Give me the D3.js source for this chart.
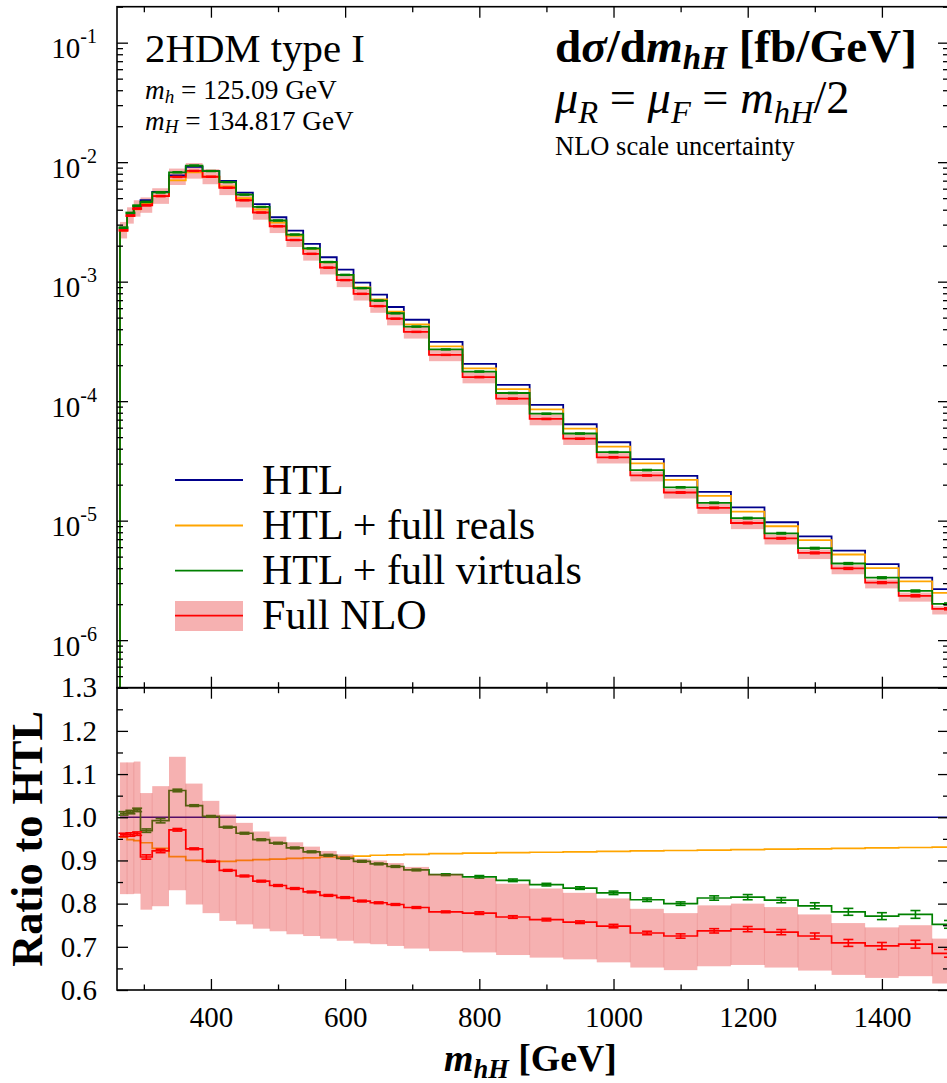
<!DOCTYPE html>
<html><head><meta charset="utf-8">
<script src="https://cdn.jsdelivr.net/npm/d3@7"></script>
<style>html,body{margin:0;padding:0;background:#fff} svg{display:block} text{font-family:"Liberation Serif",serif;fill:#000}</style>
</head><body><svg id="c" width="947" height="1083" font-family="Liberation Serif, serif"></svg>
<script>
// ---------- data ----------
const binEdges = [264.5,275,285,295,312.5,337.5,362.5,387.5,412.5,437.5,462.5,487.5,512.5,537.5,562.5,587.5,612.5,637.5,662.5,687.5,725,775,825,875,925,975,1025,1075,1125,1175,1225,1275,1325,1375,1425,1475,1525];
const htl = [2.80e-3,3.72e-3,4.25e-3,4.80e-3,5.64e-3,7.75e-3,9.12e-3,8.41e-3,6.97e-3,5.56e-3,4.45e-3,3.46e-3,2.67e-3,2.07e-3,1.60e-3,1.26e-3,9.82e-4,7.78e-4,6.14e-4,4.80e-4,3.13e-4,2.05e-4,1.37e-4,9.30e-5,6.41e-5,4.53e-5,3.27e-5,2.37e-5,1.74e-5,1.29e-5,9.70e-6,7.40e-6,5.61e-6,4.32e-6,3.33e-6,2.67e-6];
const reals = [2.67e-3,3.53e-3,4.02e-3,4.52e-3,5.23e-3,7.04e-3,8.21e-3,7.55e-3,6.26e-3,5.00e-3,4.01e-3,3.12e-3,2.42e-3,1.88e-3,1.45e-3,1.14e-3,8.94e-4,7.10e-4,5.61e-4,4.39e-4,2.87e-4,1.88e-4,1.26e-4,8.54e-5,5.90e-5,4.17e-5,3.01e-5,2.19e-5,1.61e-5,1.19e-5,8.98e-6,6.86e-6,5.21e-6,4.01e-6,3.10e-6,2.49e-6];
const virt = [2.83e-3,3.76e-3,4.32e-3,4.65e-3,5.59e-3,8.23e-3,9.37e-3,8.43e-3,6.81e-3,5.35e-3,4.22e-3,3.25e-3,2.48e-3,1.90e-3,1.46e-3,1.14e-3,8.82e-4,6.94e-4,5.44e-4,4.21e-4,2.71e-4,1.77e-4,1.17e-4,7.85e-5,5.36e-5,3.74e-5,2.65e-5,1.90e-5,1.41e-5,1.05e-5,7.84e-6,5.88e-6,4.38e-6,3.33e-6,2.58e-6,2.01e-6];
const nlo = [2.69e-3,3.57e-3,4.09e-3,4.36e-3,5.20e-3,7.53e-3,8.45e-3,7.55e-3,6.11e-3,4.80e-3,3.79e-3,2.91e-3,2.23e-3,1.71e-3,1.31e-3,1.03e-3,7.91e-4,6.24e-4,4.90e-4,3.80e-4,2.44e-4,1.59e-4,1.05e-4,7.10e-5,4.85e-5,3.39e-5,2.39e-5,1.72e-5,1.28e-5,9.56e-6,7.12e-6,5.37e-6,3.98e-6,3.03e-6,2.35e-6,1.83e-6];
const nloLo = [2.30e-3,3.06e-3,3.50e-3,3.77e-3,4.48e-3,6.44e-3,7.28e-3,6.54e-3,5.30e-3,4.18e-3,3.30e-3,2.55e-3,1.95e-3,1.50e-3,1.15e-3,9.00e-4,6.95e-4,5.49e-4,4.31e-4,3.34e-4,2.16e-4,1.41e-4,9.33e-5,6.28e-5,4.30e-5,3.01e-5,2.13e-5,1.53e-5,1.14e-5,8.49e-6,6.32e-6,4.77e-6,3.56e-6,2.71e-6,2.10e-6,1.64e-6];
const nloHi = [3.16e-3,4.19e-3,4.80e-3,5.07e-3,6.05e-3,8.84e-3,9.83e-3,8.73e-3,7.01e-3,5.49e-3,4.30e-3,3.30e-3,2.52e-3,1.93e-3,1.48e-3,1.15e-3,8.88e-4,7.00e-4,5.49e-4,4.25e-4,2.72e-4,1.76e-4,1.16e-4,7.77e-5,5.29e-5,3.68e-5,2.58e-5,1.84e-5,1.39e-5,1.03e-5,7.68e-6,5.74e-6,4.24e-6,3.22e-6,2.50e-6,1.92e-6];

const ratioHtl = [1,1,1,1,1,1,1,1,1,1,1,1,1,1,1,1,1,1,1,1,1,1,1,1,1,1,1,1,1,1,1,1,1,1,1,1];
const ratioReals = [0.954,0.948,0.946,0.941,0.928,0.909,0.900,0.898,0.898,0.900,0.902,0.903,0.905,0.906,0.908,0.908,0.910,0.912,0.913,0.914,0.916,0.917,0.918,0.919,0.920,0.921,0.922,0.923,0.924,0.925,0.926,0.927,0.928,0.929,0.930,0.931];
const ratioVirt = [1.009,1.012,1.017,0.969,0.992,1.062,1.027,1.002,0.977,0.963,0.948,0.940,0.929,0.920,0.912,0.905,0.898,0.892,0.886,0.878,0.867,0.862,0.854,0.844,0.836,0.825,0.809,0.800,0.813,0.815,0.808,0.795,0.781,0.771,0.775,0.752];
const ratioNlo = [0.959,0.960,0.962,0.908,0.922,0.971,0.927,0.898,0.877,0.864,0.852,0.842,0.835,0.827,0.819,0.814,0.806,0.802,0.798,0.791,0.781,0.778,0.769,0.763,0.757,0.748,0.732,0.725,0.737,0.741,0.734,0.725,0.709,0.702,0.706,0.685];
const ratioLo = [0.822,0.822,0.823,0.786,0.794,0.831,0.798,0.778,0.760,0.752,0.742,0.736,0.729,0.725,0.719,0.714,0.708,0.706,0.702,0.696,0.690,0.687,0.681,0.675,0.671,0.664,0.652,0.646,0.655,0.658,0.652,0.645,0.635,0.628,0.632,0.615];
const ratioHi = [1.127,1.127,1.129,1.056,1.072,1.140,1.078,1.038,1.006,0.987,0.967,0.955,0.942,0.932,0.922,0.914,0.904,0.900,0.894,0.885,0.869,0.859,0.846,0.835,0.825,0.812,0.788,0.778,0.796,0.800,0.792,0.775,0.755,0.745,0.750,0.719];
const errVirt = [0.004,0.004,0.004,0.004,0.005,0.003,0.002,0.002,0.002,0.002,0.002,0.002,0.002,0.002,0.002,0.002,0.002,0.002,0.002,0.002,0.002,0.003,0.003,0.003,0.003,0.004,0.004,0.004,0.005,0.006,0.006,0.007,0.008,0.008,0.009,0.009];
const errNlo = [0.004,0.004,0.004,0.005,0.004,0.003,0.002,0.002,0.002,0.002,0.002,0.002,0.002,0.002,0.002,0.002,0.002,0.002,0.002,0.002,0.002,0.003,0.003,0.003,0.003,0.004,0.004,0.005,0.005,0.006,0.006,0.007,0.008,0.008,0.009,0.009];

const xMajorTicks = [400,600,800,1000,1200,1400];
const xMinorTicks = [300,500,700,900,1100,1300,1500];
const logExponents = [-6,-5,-4,-3,-2,-1];
const ratioMajorTicks = [0.6,0.7,0.8,0.9,1.0,1.1,1.2,1.3];
const ratioMinorTicks = [0.65,0.75,0.85,0.95,1.05,1.15,1.25];
const legendLabels = ["HTL","HTL + full reals","HTL + full virtuals","Full NLO"];

// ---------- layout ----------
const FONT = '"Liberation Serif", serif';
const L=117, R=949, T=6.7, MID=687.7, B=990;
const cBlue="#00008b", cOrange="#ffa500", cGreen="#008000", cRed="#ff0000", cBand="rgba(230,40,40,0.36)", cSeam="rgba(200,40,40,0.16)";
const x = d3.scaleLinear().domain([260,1500]).range([L,R]);
const yTop = d3.scaleLog().domain([4e-7,0.2]).range([MID,T]);
const yRat = d3.scaleLinear().domain([0.6,1.3]).range([B,MID]);
const svg = d3.select('#c');
const defs = svg.append('defs');
defs.append('clipPath').attr('id','cpTop').append('rect').attr('x',L).attr('y',T).attr('width',R-L).attr('height',MID-T);
defs.append('clipPath').attr('id','cpBot').append('rect').attr('x',L).attr('y',MID).attr('width',R-L).attr('height',B-MID);
const nb = binEdges.length-1;
const idx = d3.range(nb);
const centers = idx.map(i=>(binEdges[i]+binEdges[i+1])/2);

function stepPath(vals, y, startPix){
  const pts=[];
  if(startPix!=null) pts.push([x(binEdges[0]), startPix]);
  for(let i=0;i<nb;i++) pts.push([x(binEdges[i]), y(vals[i])]);
  pts.push([x(binEdges[nb]), y(vals[nb-1])]);
  return d3.line().curve(d3.curveStepAfter)(pts);
}
function drawErr(g, vals, errs, y, col, sw){
  idx.forEach(i=>{
    const cx=x(centers[i]), y1=y(vals[i]-errs[i]), y2=y(vals[i]+errs[i]);
    g.append('line').attr('x1',cx).attr('x2',cx).attr('y1',y1).attr('y2',y2).attr('stroke',col).attr('stroke-width',sw);
    [y1,y2].forEach(yy=>g.append('line').attr('x1',cx-5).attr('x2',cx+5).attr('y1',yy).attr('y2',yy).attr('stroke',col).attr('stroke-width',sw));
  });
}
function drawBand(g, lo, hi, y){
  g.selectAll('rect.band').data(idx).join('rect').attr('class','band')
    .attr('x',i=>x(binEdges[i])).attr('width',i=>x(binEdges[i+1])-x(binEdges[i]))
    .attr('y',i=>y(hi[i])).attr('height',i=>y(lo[i])-y(hi[i])).attr('fill',cBand);
  // faint seams between adjacent bins
  for(let i=1;i<nb;i++){
    const top=Math.max(y(hi[i-1]),y(hi[i])), bot=Math.min(y(lo[i-1]),y(lo[i]));
    if(bot>top) g.append('line').attr('x1',x(binEdges[i])).attr('x2',x(binEdges[i])).attr('y1',top).attr('y2',bot).attr('stroke',cSeam).attr('stroke-width',1);
  }
}

// ---------- top panel ----------
const gTop = svg.append('g').attr('clip-path','url(#cpTop)');
drawBand(gTop, nloLo, nloHi, yTop);
[[htl,cBlue],[reals,cOrange],[nlo,cRed],[virt,cGreen]].forEach(([v,c])=>{
  gTop.append('path').attr('d',stepPath(v,yTop,MID+10)).attr('fill','none').attr('stroke',c).attr('stroke-width',1.8);
});
const gTopErr = gTop.append('g');
idx.forEach(i=>{
  [[virt,errVirt,ratioVirt,cGreen],[nlo,errNlo,ratioNlo,cRed]].forEach(([v,e,r,c])=>{
    const cx=x(centers[i]); const rel=e[i]/r[i];
    const y1=yTop(v[i]*(1-rel)), y2=yTop(v[i]*(1+rel));
    gTopErr.append('rect').attr('x',cx-5).attr('width',10).attr('y',y2-1.1).attr('height',(y1-y2)+2.2).attr('fill',c);
  });
});

// ---------- bottom panel ----------
const gBot = svg.append('g').attr('clip-path','url(#cpBot)');
[[ratioHtl,cBlue],[ratioReals,cOrange],[ratioVirt,cGreen]].forEach(([v,c])=>{
  gBot.append('path').attr('d',stepPath(v,yRat,null)).attr('fill','none').attr('stroke',c).attr('stroke-width',1.7);
});
drawErr(gBot.append('g'), ratioVirt, errVirt, yRat, cGreen, 1.6);
drawBand(gBot.append('g'), ratioLo, ratioHi, yRat);
gBot.append('path').attr('d',stepPath(ratioNlo,yRat,null)).attr('fill','none').attr('stroke',cRed).attr('stroke-width',1.7);
drawErr(gBot.append('g'), ratioNlo, errNlo, yRat, cRed, 1.6);

// ---------- axes ----------
function styleAxis(g){ g.select('.domain').remove(); g.selectAll('line').attr('stroke','#000').attr('stroke-width',1.3);
  g.attr('font-family',FONT); g.selectAll('text').attr('font-family',FONT).attr('font-size',29).attr('fill','#000'); }
const majorLog = logExponents.map(e=>Math.pow(10,e));
const minorLog = []; for(let e=-7;e<=-1;e++) for(let m=2;m<=9;m++){ const v=m*Math.pow(10,e); if(v>=4e-7 && v<=0.2) minorLog.push(v); }
svg.append('g').attr('transform',`translate(${L},0)`).call(d3.axisLeft(yTop).tickValues(majorLog).tickFormat('').tickSize(-11).tickSizeOuter(0)).call(styleAxis);
svg.append('g').attr('transform',`translate(${L},0)`).call(d3.axisLeft(yTop).tickValues(minorLog).tickFormat('').tickSize(-6).tickSizeOuter(0)).call(styleAxis);
svg.append('g').attr('transform',`translate(${R},0)`).call(d3.axisRight(yTop).tickValues(majorLog).tickFormat('').tickSize(-11).tickSizeOuter(0)).call(styleAxis);
svg.append('g').attr('transform',`translate(${R},0)`).call(d3.axisRight(yTop).tickValues(minorLog).tickFormat('').tickSize(-6).tickSizeOuter(0)).call(styleAxis);
svg.append('g').attr('transform',`translate(${L},0)`).call(d3.axisLeft(yRat).tickValues(ratioMajorTicks).tickFormat(d3.format('.1f')).tickSize(-11).tickPadding(20).tickSizeOuter(0)).call(styleAxis);
svg.append('g').attr('transform',`translate(${L},0)`).call(d3.axisLeft(yRat).tickValues(ratioMinorTicks).tickFormat('').tickSize(-6).tickSizeOuter(0)).call(styleAxis);
svg.append('g').attr('transform',`translate(${R},0)`).call(d3.axisRight(yRat).tickValues(ratioMajorTicks).tickFormat('').tickSize(-11).tickSizeOuter(0)).call(styleAxis);
svg.append('g').attr('transform',`translate(${R},0)`).call(d3.axisRight(yRat).tickValues(ratioMinorTicks).tickFormat('').tickSize(-6).tickSizeOuter(0)).call(styleAxis);
[[T,'top'],[MID,'bottom'],[MID,'top']].forEach(([yy,o])=>{
  const ax = o==='top'? d3.axisTop : d3.axisBottom;
  svg.append('g').attr('transform',`translate(0,${yy})`).call(ax(x).tickValues(xMajorTicks).tickFormat('').tickSize(-11).tickSizeOuter(0)).call(styleAxis);
  svg.append('g').attr('transform',`translate(0,${yy})`).call(ax(x).tickValues(xMinorTicks).tickFormat('').tickSize(-5.5).tickSizeOuter(0)).call(styleAxis);
});
svg.append('g').attr('transform',`translate(0,${B})`).call(d3.axisBottom(x).tickValues(xMajorTicks).tickFormat(d3.format('d')).tickSize(-11).tickPadding(16.5).tickSizeOuter(0)).call(styleAxis);
svg.append('g').attr('transform',`translate(0,${B})`).call(d3.axisBottom(x).tickValues(xMinorTicks).tickFormat('').tickSize(-5.5).tickSizeOuter(0)).call(styleAxis);
logExponents.forEach(e=>{
  const yy=yTop(Math.pow(10,e));
  const t=svg.append('text').attr('x',97).attr('y',yy+15.5).attr('text-anchor','end').attr('font-size',29).attr('font-family',FONT);
  t.append('tspan').text('10');
  t.append('tspan').attr('dy',-15).attr('font-size',20).text(String(e));
});
[[T,MID],[MID,B]].forEach(([a,b])=>svg.append('rect').attr('x',L).attr('y',a).attr('width',R-L).attr('height',b-a).attr('fill','none').attr('stroke','#000').attr('stroke-width',1.6));

// ---------- texts ----------
function mk(xp,yp,fs){ return svg.append('text').attr('x',xp).attr('y',yp).attr('font-size',fs).attr('font-family',FONT); }
function fit(t,w){ const bw=t.node().getBBox().width; t.attr('font-size', (+t.attr('font-size'))*w/bw); return t; }
let t;
t=mk(145,62,41).text('2HDM type I'); fit(t,220);
t=mk(145,99,26);
t.append('tspan').attr('font-style','italic').text('m');
t.append('tspan').attr('font-style','italic').attr('font-size','0.7em').attr('dy','0.2em').text('h');
t.append('tspan').attr('dy','-0.14em').text(' = 125.09 GeV'); fit(t,192);
t=mk(145,129.5,26);
t.append('tspan').attr('font-style','italic').text('m');
t.append('tspan').attr('font-style','italic').attr('font-size','0.7em').attr('dy','0.2em').text('H');
t.append('tspan').attr('dy','-0.14em').text(' = 134.817 GeV'); fit(t,209);

t=mk(555,62,40).attr('font-weight','bold');
t.append('tspan').text('d');
t.append('tspan').attr('font-style','italic').text('σ');
t.append('tspan').text('/d');
t.append('tspan').attr('font-style','italic').text('m');
t.append('tspan').attr('font-style','italic').attr('font-size','0.7em').attr('dy','0.22em').text('hH');
t.append('tspan').attr('dy','-0.154em').text(' [fb/GeV]'); fit(t,362);

t=mk(555,113,34);
t.append('tspan').attr('font-style','italic').text('μ');
t.append('tspan').attr('font-style','italic').attr('font-size','0.7em').attr('dy','0.3em').text('R');
t.append('tspan').attr('dy','-0.21em').text(' = ');
t.append('tspan').attr('font-style','italic').text('μ');
t.append('tspan').attr('font-style','italic').attr('font-size','0.7em').attr('dy','0.3em').text('F');
t.append('tspan').attr('dy','-0.21em').text(' = ');
t.append('tspan').attr('font-style','italic').text('m');
t.append('tspan').attr('font-style','italic').attr('font-size','0.7em').attr('dy','0.3em').text('hH');
t.append('tspan').attr('dy','-0.21em').text('/2'); fit(t,296);

t=mk(555,155,26).text('NLO scale uncertainty'); fit(t,240);

// legend
const legY=[480,525.5,570.7,615.7];
const legCols=[cBlue,cOrange,cGreen,cRed];
svg.append('rect').attr('x',175).attr('y',601).attr('width',68).attr('height',30).attr('fill',cBand);
const legTexts=[];
legendLabels.forEach((lab,i)=>{
  svg.append('line').attr('x1',175).attr('x2',243).attr('y1',legY[i]).attr('y2',legY[i]).attr('stroke',legCols[i]).attr('stroke-width',1.8);
  legTexts.push(mk(262,legY[i]+13.7,40).text(lab));
});
const bwv = legTexts[2].node().getBBox().width; const lfs = 40*320/bwv;
legTexts.forEach(tt=>tt.attr('font-size',lfs));

// axis titles
t=mk(444,1071,32).attr('font-weight','bold');
t.append('tspan').attr('font-style','italic').text('m');
t.append('tspan').attr('font-style','italic').attr('font-size','0.7em').attr('dy','0.25em').text('hH');
t.append('tspan').attr('dy','-0.175em').text(' [GeV]'); fit(t,173);

t=svg.append('text').attr('font-family',FONT).attr('transform',`translate(41.5,${(MID+B)/2}) rotate(-90)`).attr('text-anchor','middle').attr('font-size',42).attr('font-weight','bold').text('Ratio to HTL'); fit(t,256);
</script></body></html>
